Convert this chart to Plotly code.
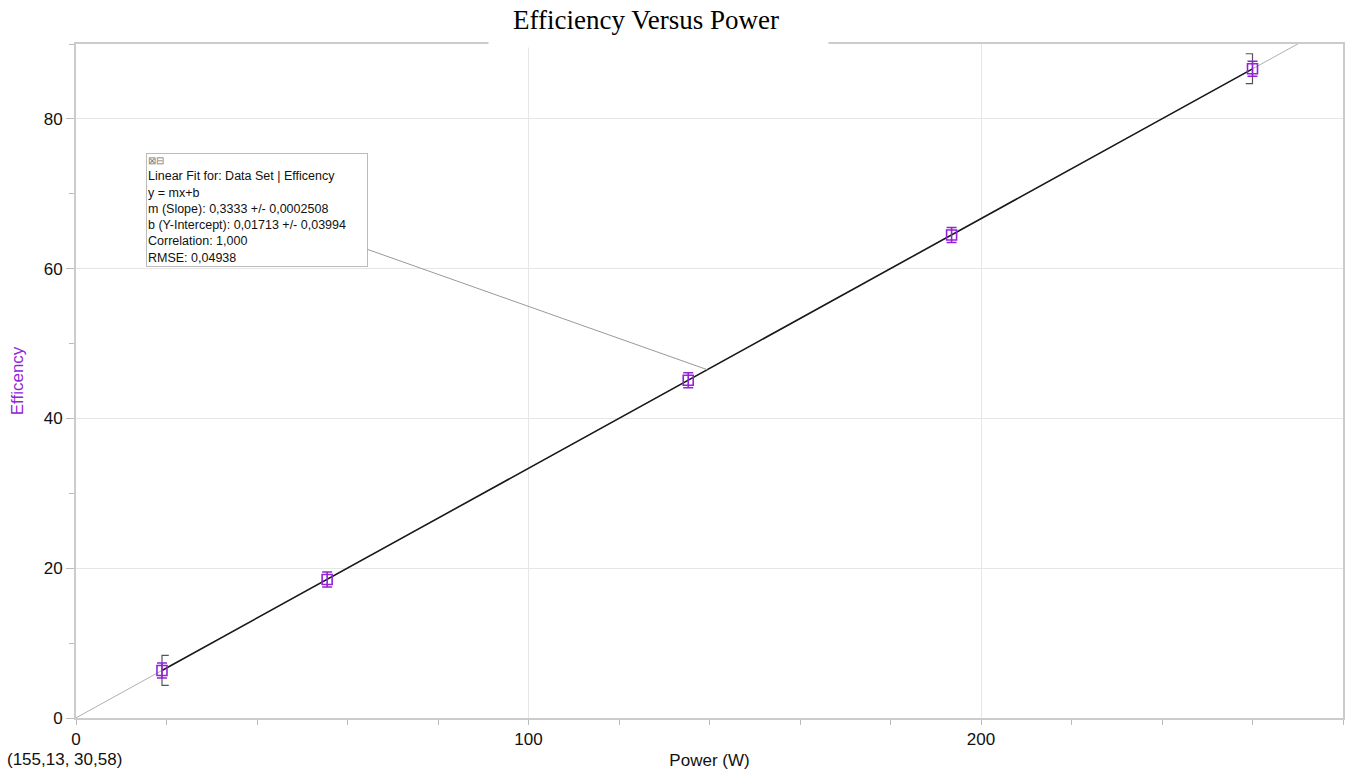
import numpy as np
import plotly.graph_objects as go

# Data
power = [19.0, 55.5, 135.3, 193.5, 260.0]
efficiency = [6.35, 18.5, 45.1, 64.5, 86.7]
eff_err = [1.0, 1.0, 1.0, 1.0, 1.0]
bracket_idx = [0, 4]
bracket_err = [2.0, 2.0]
bracket_side = [1, -1]
slope = 0.3333
intercept = 0.01713
fit_text = [
    "Linear Fit for: Data Set | Efficency",
    "y = mx+b",
    "m (Slope): 0,3333 +/- 0,0002508",
    "b (Y-Intercept): 0,01713 +/- 0,03994",
    "Correlation: 1,000",
    "RMSE: 0,04938",
]
x_range = [0, 280]
y_range = [0, 90]

purple = "#9124d6"
sans = "Liberation Sans, Arial"
fig = go.Figure()

# full-range gray extension of fit
xf = np.array(x_range, dtype=float)
fig.add_trace(go.Scatter(x=xf, y=slope * xf + intercept, mode="lines",
                         line=dict(color="#b0b0b0", width=1), hoverinfo="skip", showlegend=False))
# black fit over data range
xd = np.array([min(power), max(power)])
fig.add_trace(go.Scatter(x=xd, y=slope * xd + intercept, mode="lines",
                         line=dict(color="#1a1a1a", width=1.6), hoverinfo="skip", showlegend=False))

# brackets at endpoints
cap = 1.5
for i, e, s in zip(bracket_idx, bracket_err, bracket_side):
    px, py = power[i], efficiency[i]
    fig.add_trace(go.Scatter(
        x=[px + s * cap, px, px, px + s * cap],
        y=[py + e, py + e, py - e, py - e],
        mode="lines", line=dict(color="#555555", width=1.2),
        hoverinfo="skip", showlegend=False))

# data points
fig.add_trace(go.Scatter(
    x=power, y=efficiency, mode="markers",
    marker=dict(symbol="square-open", size=10, color=purple, line=dict(width=1.6, color=purple)),
    error_y=dict(type="data", array=eff_err, color=purple, thickness=1.6, width=5),
    showlegend=False))

# fit box annotation with leader line
x_box, y_box = 40.0, 67.8
x_tip = 139.5
fig.add_annotation(
    x=x_tip, y=slope * x_tip + intercept, xref="x", yref="y",
    ax=x_box, ay=y_box, axref="x", ayref="y",
    text="<span style='font-size:10px;color:#777'>⊠⊟</span><br>" + "<br>".join(fit_text),
    showarrow=True, arrowhead=0, arrowwidth=1, arrowcolor="#999999", standoff=0,
    align="left", bgcolor="white", bordercolor="#bbbbbb", borderwidth=1, borderpad=1,
    font=dict(family=sans, size=12.5, color="#111111"),
    width=218, valign="top")

# title with white background box
fig.add_annotation(x=0.4596, y=1, xref="paper", yref="paper", yanchor="bottom",
                   yshift=-4, text=" ", showarrow=False, bgcolor="white",
                   width=339, height=44, borderpad=0)
fig.add_annotation(x=0.45, y=1.0356, xref="paper", yref="paper", yanchor="middle",
                   text="Efficiency Versus Power", showarrow=False,
                   font=dict(family="Liberation Serif, Times New Roman", size=27, color="#000"))

# bottom-left coordinate readout
fig.add_annotation(x=-0.0087, y=-0.0623, xref="paper", yref="paper", xanchor="center",
                   yanchor="middle", text="(155,13, 30,58)", showarrow=False,
                   font=dict(family=sans, size=17, color="#111"))

axis_common = dict(showline=True, linecolor="#cccccc", linewidth=2, mirror=True,
                   gridcolor="#e6e6e6", gridwidth=1, zeroline=False,
                   ticks="outside", tickcolor="#bbbbbb",
                   tickfont=dict(family=sans, size=17, color="#111"))
fig.update_xaxes(range=x_range, dtick=100, tick0=0, ticklen=5,
                 minor=dict(dtick=20, ticks="outside", ticklen=5, tickcolor="#bbbbbb", showgrid=False),
                 title=dict(text="Power (W)", font=dict(family=sans, size=17, color="#111"), standoff=6),
                 **axis_common)
fig.update_yaxes(range=y_range, dtick=20, tick0=0, ticklen=8,
                 minor=dict(dtick=10, ticks="outside", ticklen=5, tickcolor="#bbbbbb", showgrid=False),
                 title=dict(text="Efficency", font=dict(family=sans, size=17, color=purple), standoff=16),
                 **axis_common)

fig.update_layout(width=1348, height=772, margin=dict(l=76, r=3, t=44, b=54),
                  plot_bgcolor="white", paper_bgcolor="white", showlegend=False)

fig.write_html("out.html")
